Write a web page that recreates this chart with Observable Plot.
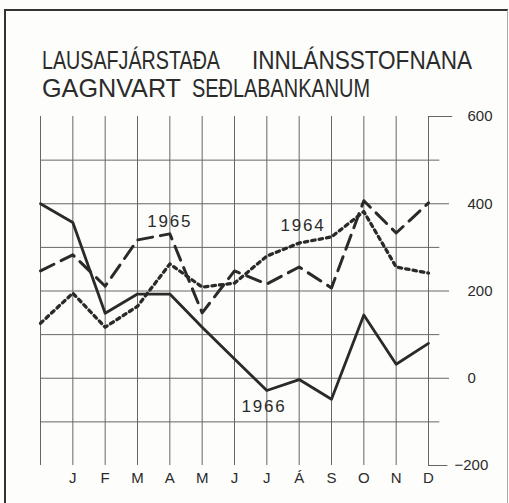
<!DOCTYPE html>
<html><head><meta charset="utf-8">
<script src="https://cdn.jsdelivr.net/npm/d3@7"></script>
<script src="https://cdn.jsdelivr.net/npm/@observablehq/plot@0.6"></script>
<style>
html,body{margin:0;padding:0;background:#fff;}
#wrap{position:relative;width:509px;height:503px;overflow:hidden;background:#fdfdfb;}
#frame{position:absolute;left:4px;top:9px;width:501px;height:500px;border-left:2px solid #333;border-top:2px solid #333;border-right:1px solid #aaa;}
#plot{position:absolute;left:0;top:0;}
.tw{position:absolute;font-family:"Liberation Sans",Arial,sans-serif;font-size:26px;color:#2b2b2b;white-space:pre;transform-origin:0 0;line-height:1;}
</style></head><body>
<div id="wrap"><div id="frame"></div><div id="plot"></div></div>
<script>
// ---- data ----
const months = ["J","F","M","A","M","J","J","Á","S","O","N","D"];
const steps = [0,1,2,3,4,5,6,7,8,9,10,11,12]; // 0 = start of year
const v1964 = [126,195,117,165,262,209,218,280,310,324,382,255,241];
const v1965 = [246,283,211,317,331,150,246,216,255,207,407,333,402];
const v1966 = [400,357,149,193,193,117,44,-28,-3,-48,145,32,80];
const yTicks = [600,400,200,0,-200];
const gridMajor = [400,200,0];
const gridMinor = [500,300,100,-100];
const seriesNames = ["1964","1965","1966"];
const labelX = [8.12,4.0,6.91];
const labelY = [350,359,-66];
const titleWords = [
  {text:"LAUSAFJÁRSTAÐA", left:42, top:46.6, w:178},
  {text:"INNLÁNSSTOFNANA", left:252, top:46.6, w:220},
  {text:"GAGNVART", left:42, top:75, w:139},
  {text:"SEÐLABANKANUM", left:192, top:75, w:178}
];

const rows = (vals) => steps.map((t,i)=>({t, v: vals[i]}));
const ink = "#2a2a2a", grid = "#666";

const chart = Plot.plot({
  width: 509, height: 503,
  marginLeft: 40, marginRight: 81, marginTop: 116, marginBottom: 38,
  x: {domain: [0,12]},
  y: {domain: [-200,600], axis: null},
  style: {fontFamily: "Liberation Sans, Arial, sans-serif", color: "#2b2b2b", background: "transparent"},
  marks: [
    Plot.ruleX(steps, {x: d=>d, y1: -200, y2: 600, stroke: grid, strokeWidth: 1}),
    Plot.ruleY(gridMinor, {y: d=>d, x1: 0, x2: 12.35, stroke: grid, strokeWidth: 1}),
    Plot.ruleY(gridMajor, {y: d=>d, x1: 0, x2: 12.65, stroke: grid, strokeWidth: 1}),
    Plot.ruleY([600], {y: d=>d, x1: 12, x2: 12.75, stroke: grid, strokeWidth: 1}),
    Plot.ruleY([-200], {y: d=>d, x1: 12, x2: 12.6, stroke: grid, strokeWidth: 1}),
    Plot.line(rows(v1964), {x: "t", y: "v", stroke: ink, strokeWidth: 3.3, strokeDasharray: "3.5,4"}),
    Plot.line(rows(v1965), {x: "t", y: "v", stroke: ink, strokeWidth: 3, strokeDasharray: "15,8"}),
    Plot.line(rows(v1966), {x: "t", y: "v", stroke: ink, strokeWidth: 2.8}),
    Plot.text(yTicks.filter(d=>d>=0), {y: d=>d, text: d=>String(d), frameAnchor: "right", dx: 39, textAnchor: "start", fontSize: 15, fill: "#2b2b2b"}),
    Plot.text(yTicks.filter(d=>d<0), {y: d=>d, text: d=>"−"+(-d), frameAnchor: "right", dx: 26, textAnchor: "start", fontSize: 15, fill: "#2b2b2b"}),
    Plot.text(seriesNames, {x: (d,i)=>labelX[i], y: (d,i)=>labelY[i], text: d=>d, fontSize: 17, fill: "#2b2b2b"}),
    Plot.axisX(steps.slice(1), {tickSize: 0, tickPadding: 7, tickFormat: i=>months[i-1], fontSize: 15, label: null})
  ]
});
document.getElementById("plot").appendChild(chart);
d3.select(chart).selectAll("text").filter(function(){ return /^19\d\d$/.test(this.textContent); })
  .style("letter-spacing", "1.8px");

const wrap = document.getElementById("wrap");
for (const tw of titleWords) {
  const el = document.createElement("div");
  el.className = "tw";
  el.textContent = tw.text;
  el.style.left = tw.left + "px";
  el.style.top = tw.top + "px";
  wrap.appendChild(el);
  const w = el.getBoundingClientRect().width;
  el.style.transform = `scaleX(${tw.w / w})`;
}
</script>
</body></html>
